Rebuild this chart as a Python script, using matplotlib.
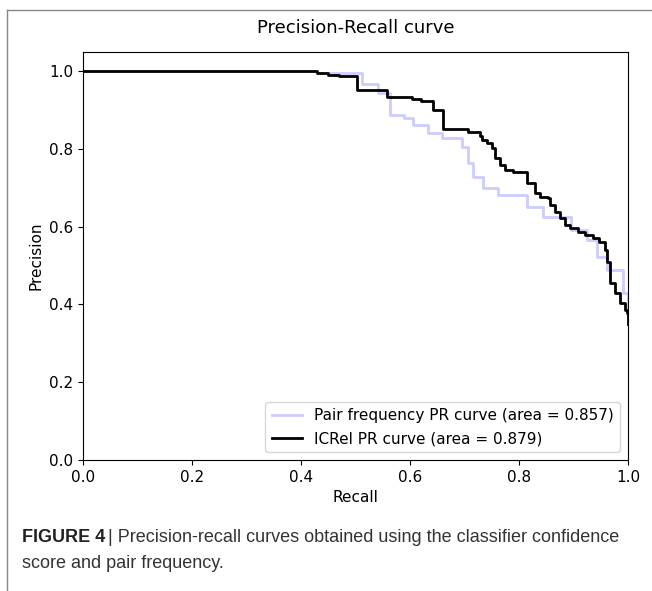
import numpy as np
import matplotlib
matplotlib.use('Agg')
import matplotlib.pyplot as plt
from matplotlib.lines import Line2D

# Precision-recall curve points (step, where='post')
pair_recall = [0.0, 0.43, 0.512, 0.541, 0.563, 0.59, 0.606, 0.633, 0.659, 0.695,
               0.706, 0.716, 0.734, 0.761, 0.815, 0.844, 0.895, 0.925, 0.943,
               0.961, 0.991, 1.0]
pair_precision = [1.0, 0.995, 0.968, 0.945, 0.889, 0.881, 0.861, 0.841, 0.828,
                  0.805, 0.763, 0.728, 0.699, 0.681, 0.650, 0.625, 0.591, 0.566,
                  0.522, 0.488, 0.43, 0.386]

icrel_recall = [0.0, 0.43, 0.45, 0.47, 0.503, 0.558, 0.604, 0.62, 0.642, 0.661,
                0.706, 0.728, 0.732, 0.741, 0.75, 0.756, 0.765, 0.774, 0.789,
                0.815, 0.829, 0.839, 0.853, 0.857, 0.866, 0.875, 0.884, 0.894,
                0.908, 0.921, 0.936, 0.947, 0.958, 0.961, 0.967, 0.976, 0.985,
                0.994, 0.999, 1.0]
icrel_precision = [1.0, 0.995, 0.99, 0.989, 0.953, 0.934, 0.928, 0.923, 0.90,
                   0.853, 0.844, 0.835, 0.823, 0.815, 0.802, 0.776, 0.758, 0.745,
                   0.740, 0.712, 0.686, 0.676, 0.673, 0.656, 0.638, 0.622, 0.604,
                   0.596, 0.586, 0.578, 0.571, 0.560, 0.54, 0.509, 0.455, 0.43,
                   0.404, 0.386, 0.378, 0.35]

pair_area = 0.857
icrel_area = 0.879

fig = plt.figure(figsize=(6.52, 5.91), dpi=100)
ax = fig.add_axes([0.127, 0.222, 0.836, 0.690])

ax.step(pair_recall, pair_precision, where='post', color='b', alpha=0.2, lw=2,
        label='Pair frequency PR curve (area = %0.3f)' % pair_area)
ax.step(icrel_recall, icrel_precision, where='post', color='black', lw=2,
        label='ICRel PR curve (area = %0.3f)' % icrel_area)

ax.set_xlim([0.0, 1.0])
ax.set_ylim([0.0, 1.05])
ax.set_xlabel('Recall', fontsize=11)
ax.set_ylabel('Precision', fontsize=11)
ax.set_title('Precision-Recall curve', fontsize=13, pad=14)
ax.tick_params(labelsize=11)
ax.legend(loc='lower right', fontsize=11)

# gray frame of the figure panel
top = 1 - 10 / 591
fig.add_artist(Line2D([7 / 652, 7 / 652], [0, top], color='#888888', lw=1))
fig.add_artist(Line2D([7 / 652, 1], [top, top], color='#888888', lw=1))

# caption
cap_font = ['Liberation Sans Narrow', 'Liberation Sans', 'DejaVu Sans']
t1 = fig.text(22 / 652, 1 - 537 / 591, 'FIGURE 4', fontsize=13, fontweight='bold',
              family=cap_font, va='center', color='#222222')
ax.annotate('| Precision-recall curves obtained using the classifier confidence',
            xy=(1, 0.5), xycoords=t1, xytext=(2, 0), textcoords='offset points',
            va='center', fontsize=13, family=cap_font, color='#333333',
            annotation_clip=False)
fig.text(22 / 652, 1 - 563 / 591, 'score and pair frequency.', fontsize=13,
         family=cap_font, va='center', color='#333333')

fig.savefig('out.png', dpi=100)
